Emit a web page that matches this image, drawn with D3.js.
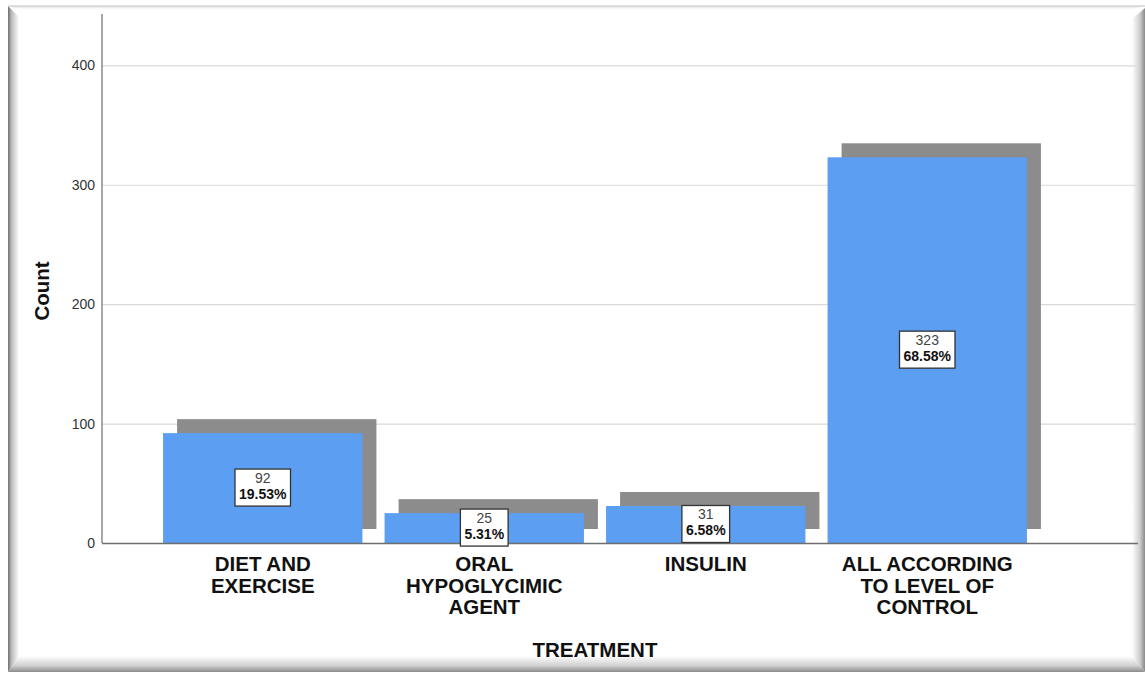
<!DOCTYPE html>
<html>
<head>
<meta charset="utf-8">
<script src="https://cdn.jsdelivr.net/npm/d3@7"></script>
<style>
  html, body { margin: 0; padding: 0; background: #ffffff; }
  svg { display: block; font-family: "Liberation Sans", Arial, sans-serif; }
</style>
</head>
<body>
<svg id="chart" width="1145" height="673"></svg>
<script>
// Treatment groups and their patient counts
const categories = ["DIET AND EXERCISE", "ORAL HYPOGLYCIMIC AGENT", "INSULIN", "ALL ACCORDING TO LEVEL OF CONTROL"];
const categoryLines = [["DIET AND", "EXERCISE"], ["ORAL", "HYPOGLYCIMIC", "AGENT"], ["INSULIN"], ["ALL ACCORDING", "TO LEVEL OF", "CONTROL"]];
const counts = [92, 25, 31, 323];
const percentLabels = ["19.53%", "5.31%", "6.58%", "68.58%"];
const yTicks = [0, 100, 200, 300, 400];
const yTop = 443;

const svg = d3.select("#chart");

// ---- bevelled frame ----
const defs = svg.append("defs");
function grad(id, x1, y1, x2, y2, stops) {
  const g = defs.append("linearGradient").attr("id", id)
    .attr("x1", x1).attr("y1", y1).attr("x2", x2).attr("y2", y2);
  stops.forEach(s => g.append("stop").attr("offset", s[0]).attr("stop-color", s[1]));
}
grad("gLeft", 0, 0, 1, 0, [[0, "#6e6e6e"], [0.3, "#b8b8b8"], [1, "#ffffff"]]);
grad("gRight", 0, 0, 1, 0, [[0, "#ffffff"], [0.6, "#cfcfcf"], [1, "#8a8a8a"]]);
grad("gBottom", 0, 0, 0, 1, [[0, "#ffffff"], [0.6, "#d0d0d0"], [1, "#8c8c8c"]]);
grad("gTop", 0, 0, 0, 1, [[0, "#d8d8d8"], [1, "#ffffff"]]);

const fx0 = 8, fy0 = 6, fx1 = 1145, fy1 = 672;
const bl = 11, br = 13, bb = 16, bt = 3;
svg.append("polygon").attr("fill", "url(#gTop)")
  .attr("points", [[fx0, fy0], [fx1, fy0], [fx1 - br, fy0 + bt], [fx0 + bl, fy0 + bt]].join(" "));
svg.append("polygon").attr("fill", "url(#gLeft)")
  .attr("points", [[fx0, fy0], [fx0 + bl, fy0 + bl], [fx0 + bl, fy1 - bb], [fx0, fy1]].join(" "));
svg.append("polygon").attr("fill", "url(#gRight)")
  .attr("points", [[fx1, fy0 + 2], [fx1, fy1], [fx1 - br, fy1 - bb], [fx1 - br, fy0 + br]].join(" "));
svg.append("polygon").attr("fill", "url(#gBottom)")
  .attr("points", [[fx0 + bl, fy1 - bb], [fx1 - br, fy1 - bb], [fx1, fy1], [fx0, fy1]].join(" "));
svg.append("line").attr("x1", fx0).attr("x2", fx1).attr("y1", fy0).attr("y2", fy0)
  .attr("stroke", "#d6d6d6").attr("stroke-width", 1.5);

// ---- scales ----
const plotLeft = 102, plotRight = 1137, plotTop = 14, plotBottom = 543;
const y = d3.scaleLinear().domain([0, yTop]).range([plotBottom, plotTop]);
const x = d3.scaleBand().domain(categories).range([152, 1038]).paddingInner(0.1).paddingOuter(0.05);

// gridlines
svg.append("g").selectAll("line").data(yTicks.filter(t => t > 0)).join("line")
  .attr("x1", plotLeft).attr("x2", plotRight)
  .attr("y1", d => y(d) + 0.5).attr("y2", d => y(d) + 0.5)
  .attr("stroke", "#d9d9d9").attr("stroke-width", 1.2);

// y axis
const yAxis = d3.axisLeft(y).tickValues(yTicks).tickSize(0).tickPadding(7);
const gy = svg.append("g").attr("transform", `translate(${plotLeft},0)`).call(yAxis);
gy.select(".domain").attr("stroke", "#8a8a8a").attr("stroke-width", 1.5).attr("d", `M0,${plotBottom}V${plotTop}`);
gy.selectAll(".tick text").attr("font-size", 14).attr("fill", "#333")
  .attr("font-family", "'Liberation Sans', Arial, sans-serif");

// shadows behind bars
const off = 14;
const data = categories.map((c, i) => ({ c, v: counts[i], p: percentLabels[i], lines: categoryLines[i] }));
svg.append("g").selectAll("rect").data(data).join("rect")
  .attr("x", d => x(d.c) + off).attr("width", x.bandwidth())
  .attr("y", d => y(d.v) - off).attr("height", d => y(0) - y(d.v))
  .attr("fill", "#8c8c8c");

// bars
svg.append("g").selectAll("rect").data(data).join("rect")
  .attr("x", d => x(d.c)).attr("width", x.bandwidth())
  .attr("y", d => y(d.v)).attr("height", d => y(0) - y(d.v))
  .attr("fill", "#5b9ef2");

// baseline
svg.append("line").attr("x1", plotLeft).attr("x2", plotRight + 1)
  .attr("y1", plotBottom + 0.5).attr("y2", plotBottom + 0.5)
  .attr("stroke", "#6e6e6e").attr("stroke-width", 1.3);

// value labels in boxes
const lab = svg.append("g").selectAll("g").data(data).join("g")
  .attr("transform", d => `translate(${x(d.c) + x.bandwidth() / 2},${(y(d.v) + y(0)) / 2 - 1})`);
const boxes = lab.append("rect").attr("fill", "#fff").attr("stroke", "#333").attr("stroke-width", 1.3);
lab.append("text").attr("text-anchor", "middle").attr("y", -4)
  .attr("font-size", 14).attr("fill", "#444").text(d => d.v);
const pct = lab.append("text").attr("text-anchor", "middle").attr("y", 12)
  .attr("font-size", 14).attr("font-weight", "bold").attr("fill", "#111").text(d => d.p);
pct.each(function (d) { d.tw = this.getComputedTextLength(); });
boxes.attr("x", d => -d.tw / 2 - 4).attr("width", d => d.tw + 8)
  .attr("y", -18).attr("height", 37);

// category labels
const cat = svg.append("g").selectAll("text").data(data).join("text")
  .attr("text-anchor", "middle").attr("font-size", 20.5).attr("font-weight", "bold").attr("fill", "#111")
  .attr("transform", d => `translate(${x(d.c) + x.bandwidth() / 2},571)`);
cat.selectAll("tspan").data(d => d.lines).join("tspan")
  .attr("x", 0).attr("dy", (d, i) => i === 0 ? 0 : 21.5).text(d => d);

// axis titles
svg.append("text").attr("x", 595).attr("y", 657).attr("text-anchor", "middle")
  .attr("font-size", 20.5).attr("font-weight", "bold").attr("fill", "#111").text("TREATMENT");
svg.append("text").attr("transform", "translate(49,291) rotate(-90)").attr("text-anchor", "middle")
  .attr("font-size", 20.5).attr("font-weight", "bold").attr("fill", "#111").text("Count");
</script>
</body>
</html>
